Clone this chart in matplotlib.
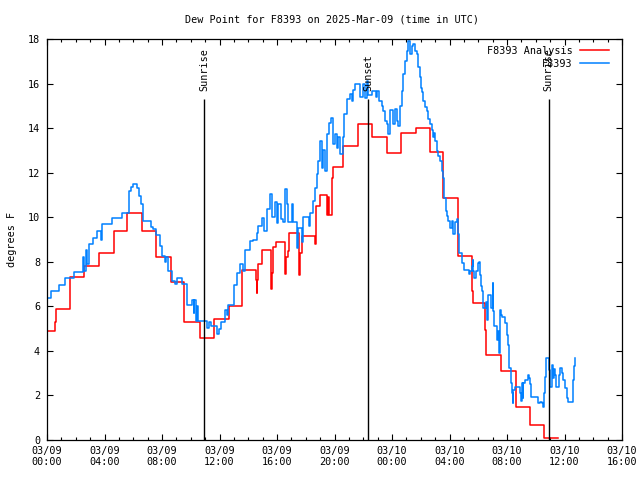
import numpy as np
import pandas as pd
import matplotlib
matplotlib.use("Agg")
import matplotlib.pyplot as plt
import matplotlib.dates as mdates

plt.rcParams['font.family'] = ['DejaVu Sans Mono']

start = pd.Timestamp("2025-03-09 00:00")

# hours since 03/09 00:00 UTC, dew point in F (step data)
analysis_hours = [0.0, 0.55, 0.62, 1.58, 2.6, 3.64, 4.64, 5.59, 6.59, 7.56, 8.6, 9.55,
                  10.64, 11.6, 12.66, 13.54, 14.54, 14.58, 14.62, 14.7, 14.94, 15.56,
                  15.6, 15.66, 15.74, 15.93, 16.58, 16.64, 16.74, 16.86, 17.55, 17.62,
                  17.76, 18.64, 18.71, 18.99, 19.5, 19.56, 19.62, 19.8, 19.92, 20.57,
                  21.66, 22.61, 23.63, 24.63, 25.65, 26.64, 27.57, 28.57, 29.54, 29.62,
                  30.45, 30.55, 31.55, 31.6, 32.6, 33.57, 34.6, 35.57]
analysis_vals = [4.9, 5.3, 5.9, 7.3, 7.8, 8.4, 9.4, 10.2, 9.4, 8.2, 7.1, 5.3,
                 4.6, 5.45, 6.0, 7.65, 7.2, 6.6, 7.2, 7.9, 8.55, 7.5,
                 6.8, 7.5, 8.67, 8.9, 7.44, 8.2, 8.5, 9.3, 7.4, 8.4,
                 9.15, 8.8, 10.5, 11.0, 10.1, 10.9, 10.1, 11.75, 12.27, 13.2,
                 14.2, 13.6, 12.9, 13.8, 14.0, 12.95, 10.85, 8.28, 6.7, 6.15,
                 4.95, 3.8, 3.45, 3.1, 1.47, 0.67, 0.07, 0.07]

obs_hours = [0.0, 0.26, 0.83, 1.23, 1.88, 2.53, 2.6, 2.7, 2.8, 2.92, 3.22, 3.46, 3.73,
             3.85, 4.54, 5.24, 5.7, 5.87, 6.0, 6.24, 6.4, 6.56, 6.68, 7.21, 7.4, 7.56,
             7.86, 8.02, 8.2, 8.3, 8.42, 8.72, 8.9, 9.07, 9.37, 9.76, 10.1, 10.2, 10.23,
             10.34, 10.45, 10.53, 11.11, 11.25, 11.39, 11.8, 11.95, 12.08, 12.38, 12.5,
             12.61, 13.03, 13.2, 13.43, 13.6, 13.77, 14.12, 14.3, 14.59, 14.7, 14.93,
             15.1, 15.28, 15.51, 15.63, 15.86, 15.98, 16.09, 16.28, 16.44, 16.56, 16.67,
             16.79, 17.02, 17.13, 17.37, 17.48, 17.72, 17.83, 18.2, 18.3, 18.53, 18.64,
             18.76, 18.87, 18.99, 19.11, 19.22, 19.34, 19.46, 19.64, 19.76, 19.87, 20.03,
             20.15, 20.27, 20.38, 20.57, 20.66, 20.85, 21.08, 21.2, 21.31, 21.43, 21.66,
             21.77, 22.0, 22.12, 22.24, 22.35, 22.59, 22.89, 22.98, 23.12, 23.28, 23.4,
             23.51, 23.63, 23.74, 23.86, 24.09, 24.21, 24.33, 24.44, 24.56, 24.68, 24.79,
             24.91, 25.02, 25.13, 25.25, 25.37, 25.48, 25.6, 25.72, 25.84, 25.95, 26.02,
             26.07, 26.18, 26.3, 26.41, 26.53, 26.64, 26.76, 26.87, 26.93, 26.99, 27.11,
             27.22, 27.34, 27.46, 27.57, 27.64, 27.73, 27.81, 27.92, 28.03, 28.15, 28.27,
             28.38, 28.5, 28.62, 28.66, 28.85, 29.03, 29.38, 29.45, 29.54, 29.61, 29.66,
             29.73, 29.82, 29.96, 30.08, 30.12, 30.17, 30.28, 30.35, 30.54, 30.63, 30.7,
             30.89, 31.0, 31.05, 31.12, 31.28, 31.35, 31.44, 31.51, 31.6, 31.67, 31.86,
             31.98, 32.09, 32.16, 32.26, 32.33, 32.4, 32.44, 32.56, 32.79, 32.88, 32.95,
             33.02, 33.08, 33.14, 33.25, 33.44, 33.52, 33.6, 33.67, 34.07, 34.18, 34.3,
             34.41, 34.53, 34.6, 34.64, 34.71, 34.87, 34.94, 35.0, 35.1, 35.18, 35.22,
             35.27, 35.35, 35.41, 35.57, 35.63, 35.69, 35.8, 35.91, 36.03, 36.15, 36.22,
             36.5, 36.57, 36.66, 36.73]
obs_vals = [6.38, 6.7, 6.97, 7.27, 7.55, 8.2, 7.6, 8.55, 7.9, 8.8, 9.07, 9.38, 9.0,
            9.68, 9.95, 10.2, 11.17, 11.36, 11.48, 11.3, 10.95, 10.58, 9.83, 9.57, 9.45, 9.22,
            8.7, 8.25, 8.0, 8.2, 7.58, 7.12, 7.0, 7.28, 7.0, 6.08, 6.3, 5.7, 6.3,
            5.32, 6.0, 5.32, 5.03, 5.3, 5.1, 4.75, 5.0, 5.3, 5.85, 5.6,
            6.08, 6.97, 7.5, 7.88, 7.6, 8.55, 8.93, 9.0, 9.3, 9.6, 9.97,
            9.4, 10.35, 11.03, 10.0, 10.7, 9.75, 10.6, 9.9, 9.8, 11.25, 10.6,
            9.8, 10.6, 9.8, 8.6, 9.5, 8.9, 10.0, 9.6, 10.2, 10.73, 11.33,
            11.93, 12.53, 13.43, 12.23, 13.0, 12.08, 13.73, 14.25, 14.47, 13.28, 13.73,
            13.1, 13.6, 12.83, 13.6, 14.63, 15.3, 15.53, 15.2, 15.7, 15.98, 15.98,
            15.4, 15.98, 15.35, 16.13, 15.5, 15.68, 15.38, 15.68, 15.23, 15.0, 14.78,
            14.33, 14.18, 13.73, 14.8, 14.2, 14.85, 14.3, 14.1, 15.0, 15.68, 16.43,
            17.03, 17.48, 17.93, 17.33, 17.7, 17.78, 17.48, 17.33, 16.73, 16.28, 15.8,
            15.6, 15.23, 14.93, 14.78, 14.4, 14.18, 13.9, 13.58, 13.8, 13.43, 12.98,
            12.75, 12.53, 12.08, 11.78, 10.88, 10.28, 10.05, 9.83, 9.53, 9.83, 9.23,
            9.8, 9.9, 9.23, 8.4, 7.95, 7.65, 7.43, 7.6, 7.8, 8.1, 7.6,
            7.28, 7.6, 7.95, 8.0, 7.4, 6.9, 6.68, 5.93, 6.2, 5.4, 6.53,
            5.93, 7.05, 5.8, 5.1, 4.5, 4.9, 3.9, 5.85, 5.6, 5.5, 5.25,
            4.73, 4.28, 3.23, 2.55, 2.1, 1.65, 2.25, 2.4, 2.4, 2.1, 1.73,
            2.55, 1.9, 2.55, 2.7, 2.93, 2.8, 2.5, 1.95, 1.95, 1.65, 1.7,
            1.65, 1.47, 2.1, 2.85, 3.68, 3.68, 3.15, 2.4, 3.35, 3.38, 2.8,
            3.2, 2.9, 2.4, 2.4, 2.9, 3.23, 3.0, 2.7, 2.33, 1.88, 1.7,
            1.7, 2.7, 3.3, 3.68]

event_labels = ["Sunrise", "Sunset", "Sunrise"]
event_hours = [10.92, 22.33, 34.9]
event_top = 15.3

t_analysis = start + pd.to_timedelta(analysis_hours, unit="h")
t_obs = start + pd.to_timedelta(obs_hours, unit="h")
t_event = start + pd.to_timedelta(event_hours, unit="h")

fig = plt.figure(figsize=(6.4, 4.8), dpi=100)
ax = fig.add_axes([47 / 640, 40 / 480, 575 / 640, 401 / 480])

ax.plot(t_analysis, analysis_vals, drawstyle="steps-post", color="#ff0000", lw=1.1,
        label="F8393 Analysis")
ax.plot(t_obs, obs_vals, drawstyle="steps-post", color="#0080ff", lw=1.1, label="F8393")

for lab, t in zip(event_labels, t_event):
    ax.vlines(t, 0, event_top, color="black", lw=1)
    ax.text(t, event_top + 0.35, lab, rotation=90, ha="center", va="bottom", fontsize=7.3)

ax.set_xlim(start, start + pd.Timedelta(hours=40))
ax.set_ylim(0, 18)
ax.set_yticks(np.arange(0, 19, 2))
ax.xaxis.set_major_locator(mdates.HourLocator(byhour=range(0, 24, 4)))
ax.xaxis.set_minor_locator(mdates.HourLocator())
ax.xaxis.set_major_formatter(mdates.DateFormatter("%m/%d\n%H:%M"))

ax.tick_params(which="both", direction="in", top=True, right=True, labelsize=7.3,
               width=0.8)
ax.tick_params(which="major", length=4.5)
ax.tick_params(which="minor", length=2.5)
ax.tick_params(axis="x", pad=4)
ax.tick_params(axis="y", pad=5)
for s in ax.spines.values():
    s.set_linewidth(0.9)

ax.set_ylabel("degrees F", fontsize=7.3, labelpad=8)
fig.text(332 / 640, 1 - 20 / 480, "Dew Point for F8393 on 2025-Mar-09 (time in UTC)",
         ha="center", va="center", fontsize=7.3)

ax.legend(loc="upper right", frameon=False, markerfirst=False, fontsize=7.3,
          handlelength=2.9, handletextpad=0.7, labelspacing=0.3,
          borderaxespad=0, borderpad=0, bbox_to_anchor=(562 / 575, 394 / 401))

fig.savefig("out.png", dpi=100)
